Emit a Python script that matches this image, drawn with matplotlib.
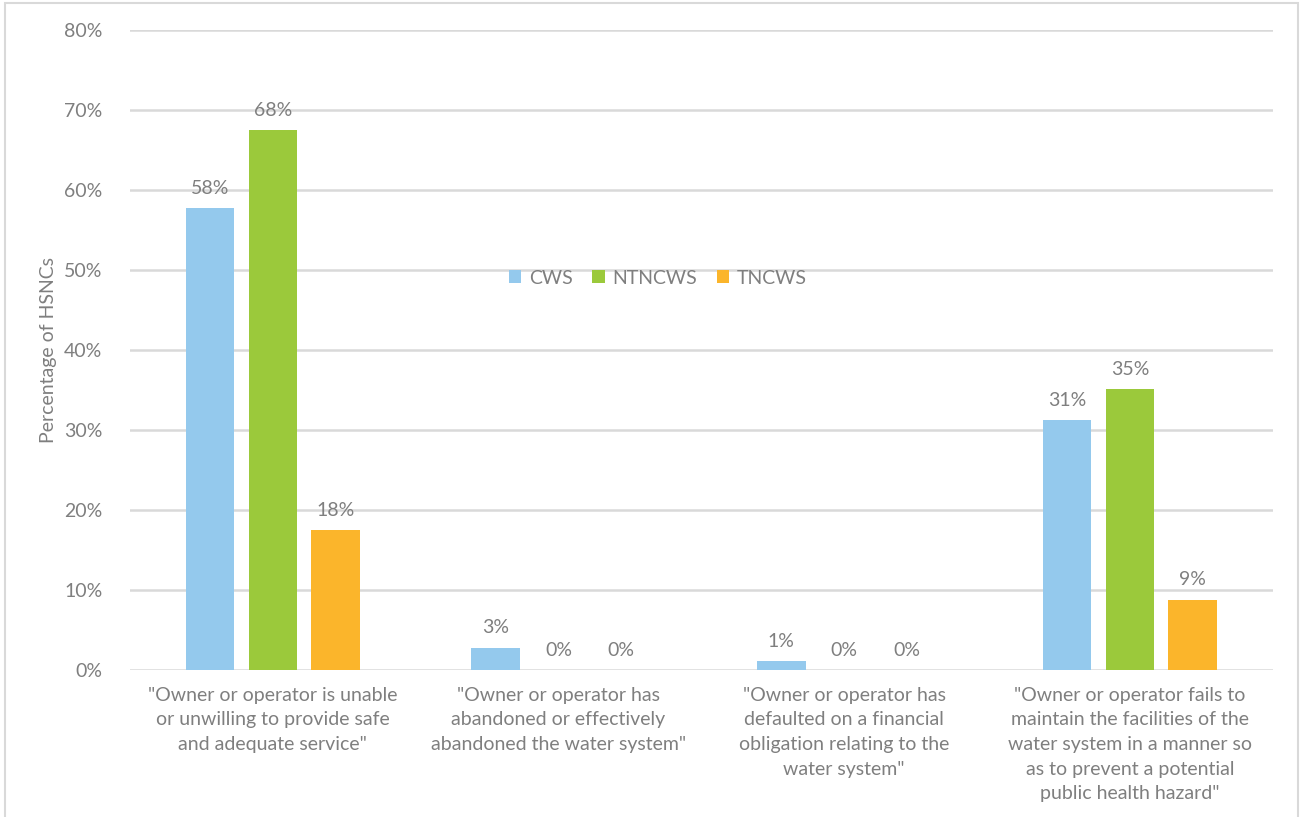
import matplotlib.pyplot as plt
import numpy as np
from matplotlib.patches import Rectangle

plt.rcParams['font.family'] = ['Lato', 'DejaVu Sans']

categories = [
    '"Owner or operator is unable\nor unwilling to provide safe\nand adequate service"',
    '"Owner or operator has\nabandoned or effectively\nabandoned the water system"',
    '"Owner or operator has\ndefaulted on a financial\nobligation relating to the\nwater system"',
    '"Owner or operator fails to\nmaintain the facilities of the\nwater system in a manner so\nas to prevent a potential\npublic health hazard"',
]
cws = [57.8, 2.8, 1.1, 31.2]
ntncws = [67.5, 0.0, 0.0, 35.1]
tncws = [17.5, 0.0, 0.0, 8.8]

series = [('CWS', cws, '#94C9ED'),
          ('NTNCWS', ntncws, '#9BC93B'),
          ('TNCWS', tncws, '#FBB52B')]

text_color = '#7F7F7F'
fs = 14

fig = plt.figure(figsize=(13, 8.17), dpi=100)
ax = fig.add_axes([0.1, 0.18, 0.879, 0.783])

x = np.arange(len(categories))
width = 0.17
offsets = [-0.22, 0.0, 0.22]

for (name, vals, color), off in zip(series, offsets):
    bars = ax.bar(x + off, vals, width, color=color, label=name, zorder=3)
    for b, v in zip(bars, vals):
        ax.text(b.get_x() + b.get_width() / 2, v + 1.4, f'{v:.0f}%',
                ha='center', va='bottom', fontsize=fs, color=text_color)

ax.set_xlim(-0.5, 3.5)
ax.set_ylim(0, 80)
ax.set_yticks(range(0, 81, 10))
ax.set_yticklabels([f'{t}%' for t in range(0, 81, 10)])
ax.yaxis.grid(True, color='#D9D9D9', linewidth=1.8, zorder=0)
ax.tick_params(axis='y', length=0, pad=20, labelsize=fs, labelcolor=text_color)
ax.set_xticks(x)
ax.set_xticklabels(categories, fontsize=fs, color=text_color, linespacing=1.55)
ax.tick_params(axis='x', length=0, pad=12)
for s in ['top', 'right', 'left', 'bottom']:
    ax.spines[s].set_visible(False)

ax.set_ylabel('Percentage of HSNCs', fontsize=fs, color=text_color, labelpad=5)

ax.legend(loc='center', bbox_to_anchor=(0.462, 0.6125), ncol=3, frameon=False,
          fontsize=fs, labelcolor=text_color, handlelength=0.65, handleheight=0.65,
          columnspacing=1.0, handletextpad=0.4)

# light outer frame of the chart area
fig.patches.append(Rectangle((5 / 1300, -0.05), 1293 / 1300, 1.05 - 3 / 817,
                             transform=fig.transFigure, fill=False,
                             edgecolor='#D9D9D9', linewidth=1.5))

fig.savefig('out.png', dpi=100)
